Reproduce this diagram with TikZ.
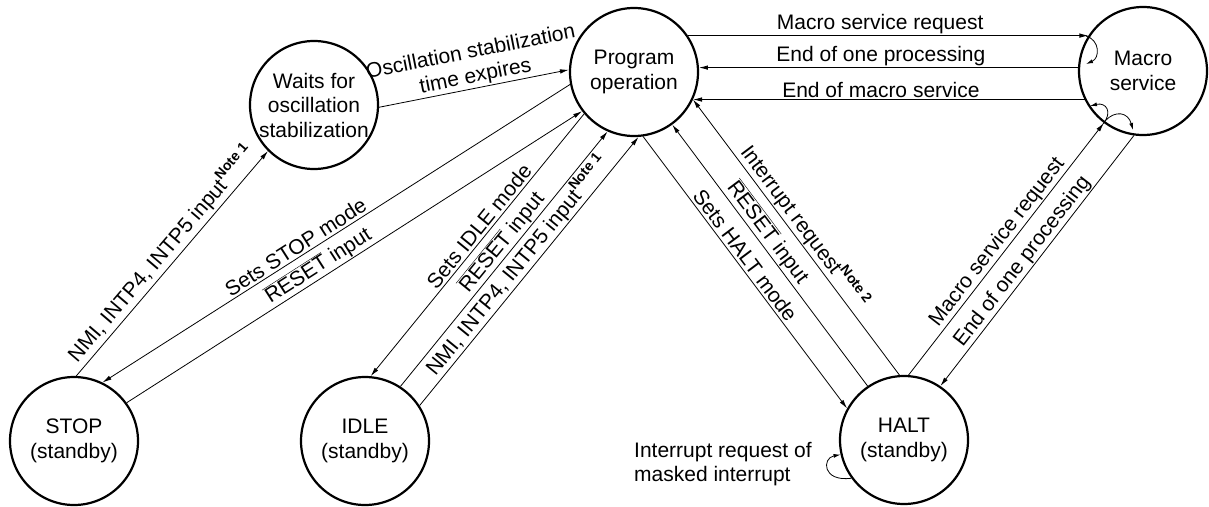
\documentclass[tikz,border=0pt]{standalone}
\usepackage{fontspec}
\setmainfont{Liberation Sans}
\usetikzlibrary{arrows.meta}
\newcommand\notemark[1]{\raisebox{0.45em}{\fontsize{14}{14}\selectfont\bfseries Note #1}}
\newcommand\resetbar{$\overline{\mbox{RESET}}$}
\begin{document}
\begin{tikzpicture}[x=1pt,y=-1pt,
  state/.style={circle,draw,line width=2.2pt,minimum size=128pt,inner sep=0pt,align=center,font=\fontsize{21}{24.5}\selectfont},
  conn/.style={line width=0.8pt,-{Latex[length=9pt,width=4.5pt]}},
  small/.style={line width=0.8pt,-{Latex[length=7pt,width=4pt]}},
  lbl/.style={font=\fontsize{21}{24.5}\selectfont,sloped,above,inner sep=2.5pt},
  hlbl/.style={font=\fontsize{21}{24.5}\selectfont,above,inner sep=1pt},
  ]
\useasboundingbox (0,0) rectangle (1209,506);
\node[state] (wait) at (314,105) {Waits for\\oscillation\\stabilization};
\node[state] (prog) at (634,72) {Program\\operation};
\node[state] (macro) at (1143,71) {Macro\\service};
\node[state] (stop) at (74,441) {STOP\\(standby)};
\node[state] (idle) at (365,441) {IDLE\\(standby)};
\node[state] (halt) at (904,440) {HALT\\(standby)};

\draw[conn] (wait.358) -- node[lbl,pos=0.52,align=center,inner sep=1pt]{Oscillation stabilization\\time expires} (prog.178);
\draw[conn] (stop.88) -- node[lbl,pos=0.5]{NMI, INTP4, INTP5 input\notemark{1}} (wait.225);
\draw[conn] (prog.191) -- node[lbl,pos=0.575]{Sets STOP mode} (stop.64);
\draw[conn] (stop.36) -- node[lbl,pos=0.435,inner sep=1pt]{\resetbar{} input} (prog.217);
\draw[conn] (prog.220) -- node[lbl,pos=0.454]{Sets IDLE mode} (idle.85);
\draw[conn] (idle.57) -- node[lbl,pos=0.535,inner sep=1pt]{\resetbar{} input} (prog.246);
\draw[conn] (idle.33) -- node[lbl,pos=0.49,inner sep=1pt]{NMI, INTP4, INTP5 input\notemark{1}} (prog.274);
\draw[conn] (prog.278) -- node[lbl,pos=0.46]{Sets HALT mode} (halt.151);
\draw[conn] (halt.124) -- node[lbl,pos=0.56,inner sep=1pt]{\resetbar{} input} (prog.306);
\draw[conn] (halt.94) -- node[lbl,pos=0.51,inner sep=1pt]{Interrupt request\notemark{2}} (prog.335);
\draw[conn] (halt.86) -- node[lbl,pos=0.5,inner sep=1pt]{Macro service request} (macro.233);
\draw[conn] (macro.262) -- node[lbl,pos=0.53,inner sep=1pt]{End of one processing} (halt.56);

\draw[conn] (prog.34) -- node[hlbl,pos=0.48]{Macro service request} (prog.34 -| macro.147);
\draw[conn] (macro.177) -- node[hlbl,pos=0.52]{End of one processing} (prog.4 |- macro.177);
\draw[conn] (macro.206) -- node[hlbl,pos=0.52]{End of macro service} (prog.335 |- macro.206);

\coordinate (a1) at (1086,36);
\coordinate (a2) at (1086,64);
\coordinate (b1) at (1103,124);
\coordinate (b2) at (1090,106);
\coordinate (c1) at (1105,121);
\coordinate (c2) at (1133,130);
\draw[small] (a1) .. controls (1100,40) and (1100,58) .. (a2);
\draw[small] (b1) .. controls (1113,112) and (1106,102) .. (b2);
\draw[small] (c1) .. controls (1115,110) and (1128,112) .. (c2);

\draw[small] (halt.216) .. controls (822,482) and (822,458) .. (halt.193);
\node[anchor=west,align=left,inner sep=0pt,font=\fontsize{21}{24.5}\selectfont] (mtxt) at (634,464) {Interrupt request of\\masked interrupt};
\end{tikzpicture}
\end{document}
